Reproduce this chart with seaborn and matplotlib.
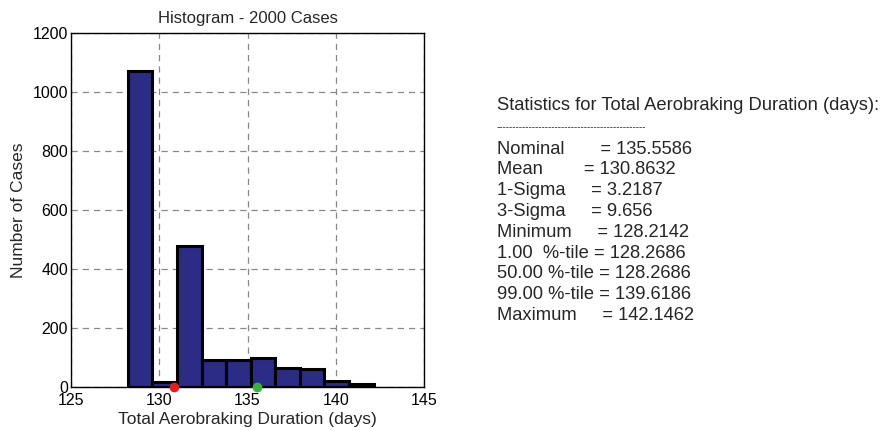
import matplotlib
matplotlib.use("Agg")
import matplotlib.pyplot as plt
import seaborn as sns
import pandas as pd

# Histogram of total aerobraking duration over 2000 Monte Carlo cases
bin_edges = [128.2142, 129.6074, 131.0006, 132.3938, 133.7870, 135.1802,
             136.5734, 137.9666, 139.3598, 140.7530, 142.1462]
counts = [1070, 18, 478, 90, 90, 100, 64, 60, 20, 10]
bin_centers = [(a + b) / 2 for a, b in zip(bin_edges[:-1], bin_edges[1:])]

mean_value = 130.8632
nominal_value = 135.5586

# labels padded with spaces so the "=" signs roughly line up
stat_names = ["Nominal       ", "Mean        ", "1-Sigma     ",
              "3-Sigma     ", "Minimum     ", "1.00  %-tile ",
              "50.00 %-tile ", "99.00 %-tile ", "Maximum     "]
stat_values = ["135.5586", "130.8632", "3.2187", "9.656", "128.2142",
               "128.2686", "128.2686", "139.6186", "142.1462"]

x_ticks = [125, 130, 135, 140, 145]
y_ticks = [0, 200, 400, 600, 800, 1000, 1200]

sns.set_theme(style="white")
plt.rcParams["font.family"] = ["Liberation Sans", "DejaVu Sans"]

fig = plt.figure(figsize=(8.85, 4.3), dpi=100)
ax = fig.add_axes([71 / 885, 1 - 387 / 430, 353 / 885, 354 / 430])

df = pd.DataFrame({"duration": bin_centers, "cases": counts})
sns.histplot(data=df, x="duration", weights="cases", bins=bin_edges, ax=ax,
             color="#2a2c86", alpha=1.0, edgecolor="black", linewidth=2.2,
             zorder=3)

ax.set_xlim(125, 145)
ax.set_ylim(0, 1200)
ax.set_xticks(x_ticks)
ax.set_yticks(y_ticks)
ax.tick_params(axis="both", labelsize=11.5, direction="in", length=4,
               colors="black")
ax.tick_params(axis="x", pad=4)
ax.tick_params(axis="y", pad=2)
ax.grid(True, linestyle=(0, (5, 4)), color="#888888", linewidth=0.9, zorder=0)
ax.set_axisbelow(True)
for sp in ax.spines.values():
    sp.set_color("black")
    sp.set_linewidth(1.0)

ax.set_title("Histogram - 2000 Cases", fontsize=12, pad=7)
ax.set_xlabel("Total Aerobraking Duration (days)", fontsize=12.5, labelpad=3)
ax.set_ylabel("Number of Cases", fontsize=12.5, labelpad=5)

# mean and nominal markers on the baseline
ax.plot([mean_value], [0], "o", color="#e02020", markersize=6, clip_on=False,
        zorder=5)
ax.plot([nominal_value], [0], "o", color="#3cb043", markersize=6,
        clip_on=False, zorder=5)

# statistics panel
x0 = 497 / 885
fig.text(x0, 1 - 106 / 430, "Statistics for Total Aerobraking Duration (days):",
         fontsize=13.2, va="center", ha="left")
fig.text(x0, 1 - 127 / 430, "-" * 46, fontsize=7, va="center", ha="left")
line_h = 20.8 / 430
for i, (n, v) in enumerate(zip(stat_names, stat_values)):
    fig.text(x0, 1 - 149 / 430 - i * line_h, f"{n}= {v}", fontsize=13.2,
             va="center", ha="left")

fig.savefig("out.png", dpi=100, facecolor="white")
